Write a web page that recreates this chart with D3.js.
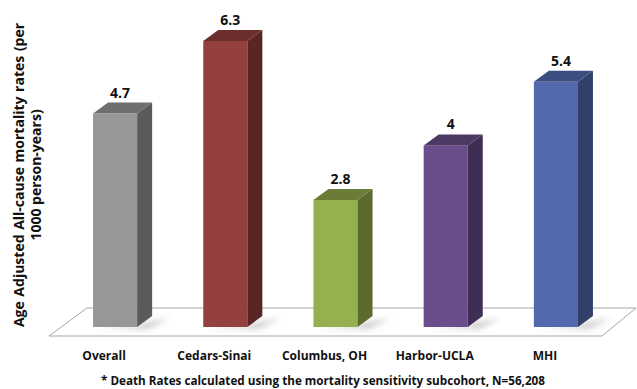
<!DOCTYPE html>
<html lang="en">
  <head>
    <meta charset="UTF-8" />
    <title>mortality rates</title>
    <style>
      body { margin: 0; background: #fff; overflow: hidden; }
      svg { display: block; font-family: "Open Sans", "Liberation Sans", sans-serif; font-weight: bold; }
    </style>
  </head>
  <body>
    <div id="chart"></div>
    <script src="https://d3js.org/d3.v7.min.js"></script>
    <script>
      const categories = ["Overall", "Cedars-Sinai", "Columbus, OH", "Harbor-UCLA", "MHI"];
      const values = [4.7, 6.3, 2.8, 4, 5.4];
      const valueLabels = ["4.7", "6.3", "2.8", "4", "5.4"];
      const frontColors = ["#979797", "#94403e", "#95b04f", "#6a4e8b", "#5468ad"];
      const sideColors = ["#5b5b5b", "#5a2625", "#5b6b2f", "#3f2e54", "#313f69"];
      const topColors = ["#6f6f6f", "#6c2e2d", "#6a7c37", "#4c3964", "#3c4d80"];

      const width = 637, height = 389;
      const depthX = 15, depthY = 11;

      const svg = d3.select("#chart").append("svg")
        .attr("width", width).attr("height", height);

      const defs = svg.append("defs");
      defs.append("filter").attr("id", "blur")
        .attr("x", "-50%").attr("y", "-50%").attr("width", "200%").attr("height", "200%")
        .append("feGaussianBlur").attr("stdDeviation", 3);

      const x = d3.scaleBand().domain(categories).range([60, 611])
        .paddingInner(0.6).paddingOuter(0.3);
      const y = d3.scaleLinear().domain([0, 7]).range([327, 327 - 7 * 45.4]);

      // floor
      const floorFront = 336, floorBack = 308;
      svg.append("polygon")
        .attr("points", [[49, floorFront], [87, floorBack], [636, floorBack], [602, floorFront]].join(" "))
        .attr("fill", "#fff").attr("stroke", "#a6a6a6").attr("stroke-width", 1);

      const bars = svg.append("g").selectAll("g")
        .data(categories).join("g");

      // shadows
      bars.append("polygon")
        .attr("points", d => {
          const x0 = x(d), x1 = x(d) + x.bandwidth(), b = y(0);
          return [[x0 + 4, b], [x1 + 4, b - 2], [x1 + depthX + 18, b - 9], [x1 + 10, b + 1]].join(" ");
        })
        .attr("fill", "#777").attr("opacity", 0.6).attr("filter", "url(#blur)");

      bars.append("rect")
        .attr("x", d => x(d)).attr("y", (d, i) => y(values[i]))
        .attr("width", x.bandwidth()).attr("height", (d, i) => y(0) - y(values[i]))
        .attr("fill", (d, i) => frontColors[i]);

      bars.append("polygon")
        .attr("points", (d, i) => {
          const x1 = x(d) + x.bandwidth(), t = y(values[i]), b = y(0);
          return [[x1, t], [x1 + depthX, t - depthY], [x1 + depthX, b - depthY], [x1, b]].join(" ");
        })
        .attr("fill", (d, i) => sideColors[i]);

      bars.append("polygon")
        .attr("points", (d, i) => {
          const x0 = x(d), x1 = x(d) + x.bandwidth(), t = y(values[i]);
          return [[x0, t], [x0 + depthX, t - depthY], [x1 + depthX, t - depthY], [x1, t]].join(" ");
        })
        .attr("fill", (d, i) => topColors[i]);

      bars.append("text")
        .attr("x", d => x(d) + x.bandwidth() / 2 + 5)
        .attr("y", (d, i) => y(values[i]) - depthY - 5)
        .attr("text-anchor", "middle").attr("font-size", 14).attr("fill", "#111")
        .text((d, i) => valueLabels[i]);

      bars.append("text")
        .attr("x", d => x(d) + x.bandwidth() / 2 - 11)
        .attr("y", 360)
        .attr("text-anchor", "middle").attr("font-size", 12).attr("fill", "#111")
        .text(d => d);

      // axis title
      const title = svg.append("text")
        .attr("transform", "translate(0,175) rotate(-90)")
        .attr("text-anchor", "middle").attr("font-size", 14).attr("fill", "#111");
      title.append("tspan").attr("x", 0).attr("y", 24).attr("word-spacing", 1)
        .text("Age Adjusted All-cause mortality rates (per");
      title.append("tspan").attr("x", 0).attr("y", 41).text("1000 person-years)");

      svg.append("text")
        .attr("x", 323).attr("y", 385)
        .attr("text-anchor", "middle").attr("font-size", 11.7).attr("fill", "#111")
        .text("* Death Rates calculated using the mortality sensitivity subcohort, N=56,208");
    </script>
  </body>
</html>
